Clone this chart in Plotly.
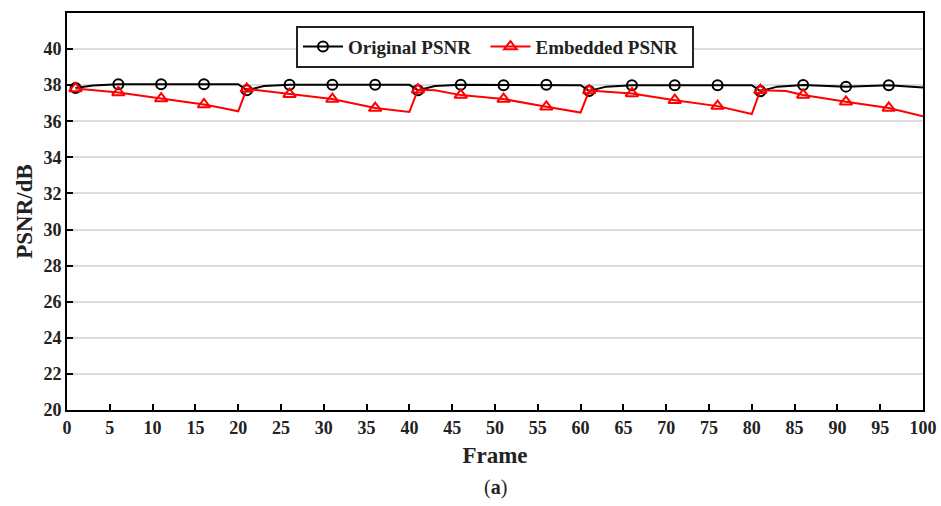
import plotly.graph_objects as go

# ---- data ----
orig_frames = [1, 3, 6, 11, 16, 20, 21, 23, 26, 31, 36, 40, 41, 43, 46, 51, 56, 60,
               61, 63, 66, 71, 76, 80, 81, 83, 86, 91, 96, 100]
orig_psnr = [37.85, 37.98, 38.05, 38.05, 38.05, 38.05, 37.72, 37.95, 38.02, 38.02, 38.02, 38.02,
             37.72, 37.95, 38.02, 38.0, 38.02, 38.0, 37.68, 37.92, 38.0, 38.0, 38.0, 38.0,
             37.67, 37.92, 38.01, 37.92, 37.99, 37.87]

emb_frames = [1, 6, 11, 16, 18, 20, 21, 26, 31, 36, 38, 40, 41, 43, 46, 51, 56, 60,
              61, 66, 71, 76, 80, 81, 84, 86, 91, 96, 100]
emb_psnr = [37.82, 37.6, 37.26, 36.93, 36.75, 36.55, 37.8, 37.5, 37.23, 36.73, 36.64, 36.52,
            37.75, 37.72, 37.45, 37.23, 36.8, 36.48, 37.7, 37.54, 37.17, 36.84, 36.4,
            37.72, 37.68, 37.46, 37.08, 36.74, 36.28]

marker_frames = list(range(1, 100, 5))

x_ticks = list(range(0, 101, 5))
y_ticks = list(range(20, 41, 2))

FONT = "Liberation Serif"


def pick(frames, vals, keep):
    m = dict(zip(frames, vals))
    xs = [f for f in keep if f in m]
    return xs, [m[f] for f in xs]


fig = go.Figure()

series = [
    ("Original PSNR", orig_frames, orig_psnr, "black", "circle-open", 10),
    ("Embedded PSNR", emb_frames, emb_psnr, "red", "triangle-up-open", 11),
]
for name, fr, vals, col, sym, sz in series:
    fig.add_trace(go.Scatter(x=fr, y=vals, mode="lines", line=dict(color=col, width=2),
                             showlegend=False, hoverinfo="skip"))
    mx, my = pick(fr, vals, marker_frames)
    fig.add_trace(go.Scatter(x=mx, y=my, mode="markers",
                             marker=dict(symbol=sym, size=sz, color=col, line=dict(color=col, width=2)),
                             showlegend=False))
    fig.add_trace(go.Scatter(x=[None], y=[None], mode="lines+markers", name=name + "  ",
                             line=dict(color=col, width=2),
                             marker=dict(symbol=sym, size=sz, color=col, line=dict(color=col, width=2))))

axis_common = dict(
    showline=True, linecolor="black", linewidth=2, mirror=True,
    ticks="inside", ticklen=6, tickwidth=2, tickcolor="black",
    tickfont=dict(family=FONT, size=18, color="#222", weight="bold"),
    zeroline=False, automargin=False,
)

fig.update_xaxes(range=[0, 100], tickvals=x_ticks, showgrid=False,
                 title=dict(text="Frame", font=dict(family=FONT, size=23, color="#222", weight="bold"),
                            standoff=10),
                 **axis_common)
fig.update_yaxes(range=[20, 42], tickvals=y_ticks, showgrid=True, gridcolor="#dcdcdc", gridwidth=2,
                 title=dict(text="PSNR/dB", font=dict(family=FONT, size=23, color="#222", weight="bold"),
                            standoff=4),
                 **axis_common)

fig.update_layout(
    width=941, height=506,
    margin=dict(l=67, r=18, t=13, b=96),
    plot_bgcolor="white", paper_bgcolor="white",
    showlegend=True,
    legend=dict(orientation="h", x=0.5, xanchor="center", y=0.968, yanchor="top",
                bgcolor="white", bordercolor="#222", borderwidth=2,
                font=dict(family=FONT, size=19, color="#222", weight="bold"),
                itemwidth=40, tracegroupgap=0),
    annotations=[dict(text="(<b>a</b>)", x=0.5, xref="paper", y=-0.195, yref="paper",
                      yanchor="middle", showarrow=False,
                      font=dict(family=FONT, size=20, color="#222"))],
)

fig.write_html("out.html")
